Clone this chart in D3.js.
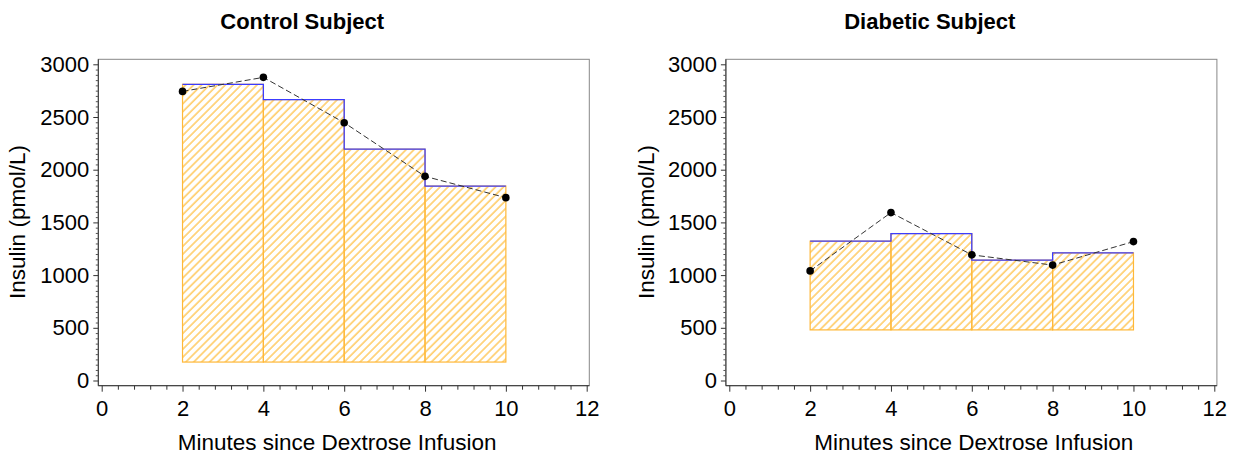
<!DOCTYPE html>
<html><head><meta charset="utf-8">
<script src="https://cdn.jsdelivr.net/npm/d3@7"></script>
<style>body{margin:0;background:#fff}svg{display:block}text{font-family:"Liberation Sans",Arial,sans-serif}</style>
</head><body><svg id="c" width="1233" height="458"></svg>
<script>
const titles = ["Control Subject", "Diabetic Subject"];
const binStarts = [2, 4, 6, 8];
const binWidth = 2;
const controlBars = [2810, 2665, 2195, 1845];
const controlBase = 175;
const controlPointsX = [2, 4, 6, 8, 10];
const controlPointsY = [2743, 2876, 2446, 1937, 1735];
const diabeticBars = [1322, 1394, 1142, 1211];
const diabeticBase = 480;
const diabeticPointsX = [2, 4, 6, 8, 10];
const diabeticPointsY = [1040, 1593, 1192, 1095, 1318];
const xTicks = [0, 2, 4, 6, 8, 10, 12];
const yTicks = [0, 500, 1000, 1500, 2000, 2500, 3000];
const xLabel = "Minutes since Dextrose Infusion";
const yLabel = "Insulin (pmol/L)";

const panels = [
  {title: titles[0], bars: controlBars, base: controlBase, px: controlPointsX, py: controlPointsY, ox: 0, lx: -7, ly: 25},
  {title: titles[1], bars: diabeticBars, base: diabeticBase, px: diabeticPointsX, py: diabeticPointsY, ox: 627.6, lx: 2, ly: 26}
];

const svg = d3.select("#c");
const defs = svg.append("defs");
const pat = defs.append("pattern").attr("id", "hatch").attr("patternUnits", "userSpaceOnUse")
  .attr("width", 5.6).attr("height", 10).attr("patternTransform", "rotate(45)");
pat.append("line").attr("x1", 1).attr("y1", 0).attr("x2", 1).attr("y2", 10)
  .attr("stroke", "#ffc95e").attr("stroke-width", 1.5);

panels.forEach(p => {
  const x = d3.scaleLinear().domain([0, 12]).range([101.7 + p.ox, 586.7 + p.ox]);
  const y = d3.scaleLinear().domain([0, 3000]).range([380.5, 64.3]);
  const g = svg.append("g");
  const fx0 = x.invert(98.3 + p.ox), fx1 = x.invert(589.3 + p.ox);
  const fy0 = y.invert(385.7), fy1 = y.invert(59.3);

  g.append("rect").attr("x", x(fx0)).attr("y", y(fy1)).attr("width", x(fx1) - x(fx0)).attr("height", y(fy0) - y(fy1))
    .attr("fill", "none").attr("stroke", "#888").attr("stroke-width", 1);

  g.selectAll("rect.bar").data(p.bars).join("rect").attr("class", "bar")
    .attr("x", (d, i) => x(binStarts[i])).attr("width", (d, i) => x(binStarts[i] + binWidth) - x(binStarts[i]))
    .attr("y", d => y(d)).attr("height", d => y(p.base) - y(d))
    .attr("fill", "url(#hatch)").attr("stroke", "#ffb838").attr("stroke-width", 1.2);

  const stepPts = [];
  p.bars.forEach((d, i) => { stepPts.push([binStarts[i], d]); stepPts.push([binStarts[i] + binWidth, d]); });
  g.append("path").attr("d", d3.line().x(d => x(d[0])).y(d => y(d[1]))(stepPts))
    .attr("fill", "none").attr("stroke", "#3c3cff").attr("stroke-width", 1.3);

  const pts = p.px.map((v, i) => [v, p.py[i]]);
  g.append("path").attr("d", d3.line().x(d => x(d[0])).y(d => y(d[1]))(pts))
    .attr("fill", "none").attr("stroke", "#333").attr("stroke-width", 1).attr("stroke-dasharray", "6,3");
  g.selectAll("circle").data(pts).join("circle")
    .attr("cx", d => x(d[0])).attr("cy", d => y(d[1])).attr("r", 3.8).attr("fill", "#000");

  g.append("line").attr("x1", x(fx0)).attr("x2", x(fx1)).attr("y1", y(fy0)).attr("y2", y(fy0)).attr("stroke", "#333");
  g.append("line").attr("x1", x(fx0)).attr("x2", x(fx0)).attr("y1", y(fy0)).attr("y2", y(fy1)).attr("stroke", "#333");

  const xa = d3.axisBottom(x).tickValues(xTicks).tickSize(6).tickFormat(d3.format("d"));
  const xg = g.append("g").attr("transform", `translate(0,${y(fy0)})`).call(xa);
  xg.select(".domain").remove();
  xg.selectAll("text").attr("font-size", 22).attr("dy", "0.95em").attr("fill", "#000");
  xg.selectAll("line").attr("stroke", "#333");
  const xMinor = d3.range(0, 12.001, 0.4).filter(v => Math.abs(v / 2 - Math.round(v / 2)) > 1e-6);
  const xm = g.append("g").attr("transform", `translate(0,${y(fy0)})`).call(d3.axisBottom(x).tickValues(xMinor).tickSize(4).tickFormat(""));
  xm.select(".domain").remove(); xm.selectAll("line").attr("stroke", "#333");

  const ya = d3.axisLeft(y).tickValues(yTicks).tickSize(5).tickFormat(d3.format("d"));
  const yg = g.append("g").attr("transform", `translate(${x(fx0)},0)`).call(ya);
  yg.select(".domain").remove();
  yg.selectAll("text").attr("font-size", 22).attr("fill", "#000").attr("dx", "-1px");
  yg.selectAll("line").attr("stroke", "#333");
  const yMinor = d3.range(0, 3001, 50).filter(v => v % 500 !== 0);
  const ym = g.append("g").attr("transform", `translate(${x(fx0)},0)`).call(d3.axisLeft(y).tickValues(yMinor).tickSize(2.5).tickFormat(""));
  ym.select(".domain").remove(); ym.selectAll("line").attr("stroke", "#555");

  const cx = (x(0) + x(12)) / 2;
  g.append("text").attr("x", cx - 42).attr("y", 29).attr("text-anchor", "middle")
    .attr("font-size", 22).attr("font-weight", "bold").text(p.title);
  g.append("text").attr("x", cx + p.lx).attr("y", 450).attr("text-anchor", "middle").attr("font-size", 22.5).text(xLabel);
  g.append("text").attr("transform", `translate(${p.ly + p.ox},${222}) rotate(-90)`).attr("text-anchor", "middle")
    .attr("font-size", 22.5).text(yLabel);
});
</script></body></html>
